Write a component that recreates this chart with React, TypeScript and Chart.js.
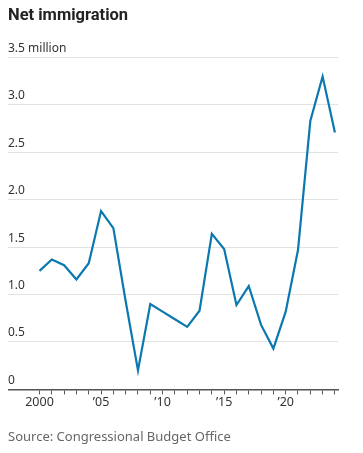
import React, { useEffect, useRef } from "react";
import { Chart, registerables } from "chart.js";

Chart.register(...registerables);

const years: number[] = [2000, 2001, 2002, 2003, 2004, 2005, 2006, 2007, 2008, 2009, 2010, 2011, 2012, 2013, 2014, 2015, 2016, 2017, 2018, 2019, 2020, 2021, 2022, 2023, 2024];
const netImmigration: number[] = [1.25, 1.37, 1.31, 1.16, 1.33, 1.88, 1.7, 0.93, 0.2, 0.9, 0.82, 0.74, 0.66, 0.83, 1.64, 1.48, 0.89, 1.09, 0.68, 0.43, 0.82, 1.47, 2.83, 3.3, 2.71];
const yTicks: number[] = [0, 0.5, 1, 1.5, 2, 2.5, 3, 3.5];
const xLabels: Record<number, string> = { 2000: "2000", 2005: "\u201905", 2010: "\u201910", 2015: "\u201915", 2020: "\u201920" };

const FONT = "'Noto Sans', sans-serif";

export default function App() {
  const ref = useRef<HTMLCanvasElement | null>(null);
  useEffect(() => {
    if (!ref.current) return;
    const chart = new Chart(ref.current, {
      type: "line",
      data: {
        datasets: [
          {
            data: years.map((y, i) => ({ x: y, y: netImmigration[i] })),
            borderColor: "#0b78b0",
            borderWidth: 2.2,
            pointRadius: 0,
            tension: 0,
          },
        ],
      },
      options: {
        animation: false,
        responsive: true,
        maintainAspectRatio: false,
        layout: { padding: { left: 0, right: 17, top: 0, bottom: 0 } },
        plugins: {
          legend: { display: false },
          tooltip: { enabled: false },
          title: {
            display: true,
            text: "Net immigration",
            align: "start",
            color: "#222",
            font: { family: "Roboto, sans-serif", size: 16.5, weight: "bold", lineHeight: 1 },
            padding: { top: 0, bottom: 33 },
          },
          subtitle: {
            display: true,
            position: "bottom",
            text: "Source: Congressional Budget Office",
            align: "start",
            color: "#666",
            font: { family: FONT, size: 13, lineHeight: 1.2 },
            padding: { top: 18, bottom: 0 },
          },
        },
        scales: {
          x: {
            type: "linear",
            min: 1997.44,
            max: 2024.25,
            afterBuildTicks: (scale: any) => {
              scale.ticks = years.map((v) => ({ value: v }));
            },
            border: { display: true, color: "#555", width: 1.5 },
            grid: { drawOnChartArea: false, drawTicks: true, tickLength: 5, color: "#555", lineWidth: 1 },
            ticks: {
              autoSkip: false,
              maxRotation: 0,
              padding: 1,
              color: "#333",
              font: { family: FONT, size: 12.5 },
              callback: (v: any) => xLabels[Number(v)] ?? "",
            },
          },
          y: {
            type: "linear",
            min: 0,
            max: 3.5,
            afterBuildTicks: (scale: any) => {
              scale.ticks = yTicks.map((v) => ({ value: v }));
            },
            border: { display: false },
            grid: { drawTicks: false, color: "#e2e2e2", lineWidth: 1 },
            ticks: {
              mirror: true,
              padding: 0,
              labelOffset: -9,
              color: "#333",
              font: { family: FONT, size: 12 },
              callback: (v: any) => {
                const n = Number(v);
                if (n === 0) return "0";
                if (n === 3.5) return "3.5 million";
                return n.toFixed(1);
              },
            },
          },
        },
      },
    });
    return () => chart.destroy();
  }, []);
  return (
    <div style={{ position: "relative", width: 347, height: 437 }}>
      <canvas ref={ref} style={{ display: "block" }} />
    </div>
  );
}
